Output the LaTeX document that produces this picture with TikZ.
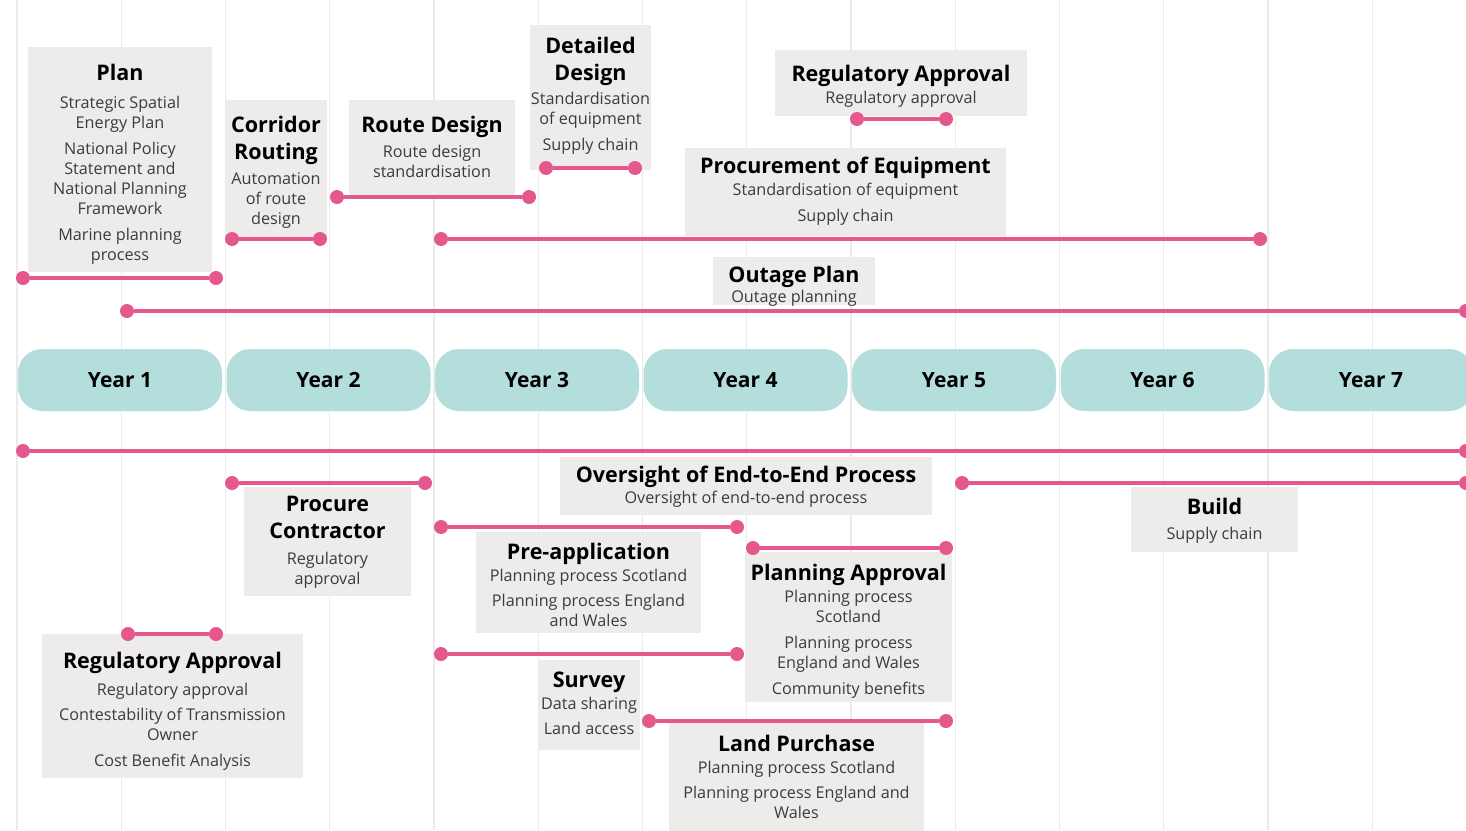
\documentclass[tikz,border=0pt]{standalone}
\usepackage{fontspec}
\setmainfont{Open Sans}
\definecolor{barpink}{HTML}{E4588E}
\definecolor{yearteal}{HTML}{B3DEDC}
\definecolor{boxgrey}{HTML}{EEECEA}
\definecolor{gridgrey}{HTML}{EBEBEB}
\definecolor{bodytext}{HTML}{3C3C3C}
\newcommand\hd[1]{{\fontsize{21.5}{20}\selectfont\bfseries\color{black}#1}}

\begin{document}
\begin{tikzpicture}[x=1pt, y=-1pt,
    year/.style={fill=yearteal, rounded corners=24pt, minimum width=204pt, minimum height=62pt, font=\fontsize{21}{20}\selectfont\bfseries},
    task/.style={fill=boxgrey, align=center, inner sep=0pt, text=bodytext, font=\fontsize{16.2}{20}\selectfont},
    bar/.style={draw=barpink, line width=3.2pt},
    dot/.style={circle, fill=barpink, minimum size=14pt, inner sep=0pt}]
    \useasboundingbox[fill=white] (0,0) rectangle (1466,830);
    % half-year grid
    \foreach \k in {0,...,13}
        \draw[gridgrey, line width=1.2pt] ({17+104.25*\k},0) -- ({17+104.25*\k},830);
    % years
    \foreach \i in {1,...,7}
        \node[year] (year\i) at ({120+208.5*(\i-1)},380) {Year \i};

    % tasks above the years
    \node[task, minimum width=184pt, minimum height=225pt] (plan) at (120,159.5)
        {\hd{Plan}\\[8pt] Strategic Spatial\\ Energy Plan\\[6pt] National Policy\\ Statement and\\ National Planning\\ Framework\\[6pt] Marine planning\\ process\\[-25pt]};
    \node[task, minimum width=102pt, minimum height=138pt] (corridor) at (276,169)
        {\hd{Corridor}\\[7pt] \hd{Routing}\\[5.5pt] Automation\\ of route\\ design\\[-23pt]};
    \node[task, minimum width=166pt, minimum height=95pt] (route) at (432,147.5)
        {\hd{Route Design}\\[5pt] Route design\\ standardisation\\[-18pt]};
    \node[task, minimum width=121pt, minimum height=145pt] (detail) at (590.5,97.5)
        {\hd{Detailed}\\[7pt] \hd{Design}\\[4pt] Standardisation\\ of equipment\\[6pt] Supply chain\\[-12pt]};
    \node[task, minimum width=252pt, minimum height=66pt] (regtop) at (901,83)
        {\hd{Regulatory Approval}\\[2pt] Regulatory approval\\[-22pt]};
    \node[task, minimum width=321pt, minimum height=88pt] (procureq) at (845.5,192)
        {\hd{Procurement of Equipment}\\[2pt] Standardisation of equipment\\[6pt] Supply chain\\[-14pt]};
    \node[task, minimum width=162pt, minimum height=48pt] (outage) at (794,281)
        {\hd{Outage Plan}\\[0pt] Outage planning\\[-26pt]};

    % tasks below the years
    \node[task, minimum width=372pt, minimum height=58pt] (oversight) at (746,486)
        {\hd{Oversight of End-to-End Process}\\[1pt] Oversight of end-to-end process\\[-18pt]};
    \node[task, minimum width=167pt, minimum height=109pt] (contractor) at (327.5,541.5)
        {\hd{Procure}\\[7pt] \hd{Contractor}\\[6pt] Regulatory\\ approval\\[-18pt]};
    \node[task, minimum width=167pt, minimum height=65pt] (build) at (1214.5,519.5)
        {\hd{Build}\\[5pt] Supply chain\\[-18pt]};
    \node[task, minimum width=225pt, minimum height=101pt] (preapp) at (588.5,582.5)
        {\hd{Pre-application}\\[2pt] Planning process Scotland\\[5pt] Planning process England\\ and Wales\\[-24pt]};
    \node[task, minimum width=207pt, minimum height=150pt] (planning) at (848.5,627)
        {\hd{Planning Approval}\\[2pt] Planning process\\ Scotland\\[6pt] Planning process\\ England and Wales\\[6pt] Community benefits\\[-24pt]};
    \node[task, minimum width=261pt, minimum height=144pt] (regbottom) at (172.5,706)
        {\hd{Regulatory Approval}\\[7pt] Regulatory approval\\[5pt] Contestability of Transmission\\ Owner\\[6pt] Cost Benefit Analysis\\[-26pt]};
    \node[task, minimum width=102pt, minimum height=90pt] (survey) at (589,705)
        {\hd{Survey}\\[2pt] Data sharing\\[5pt] Land access\\[-16pt]};
    \node[task, minimum width=255pt, minimum height=110pt] (land) at (796.5,778)
        {\hd{Land Purchase}\\[2pt] Planning process Scotland\\[5pt] Planning process England and\\ Wales\\[-18pt]};

    % duration bars
    \foreach \n/\y/\a/\b in {plan/278/23/216, corridor/239/232/320, route/197/337/529,
        detail/168/546/635, regtop/119/857/946, procureq/239/441/1260, outage/311/127/1466,
        oversight/451/23/1466, contractor/483/232/425, build/483/962/1466,
        preapp/527/441/737, planning/548/753/946, regbottom/634/128/216,
        survey/654/441/737, land/721/649/946} {
        \node[dot] (\n-start) at (\a,\y) {};
        \node[dot] (\n-end) at (\b,\y) {};
        \draw[bar] (\n-start) -- (\n-end);
    }
\end{tikzpicture}
\end{document}
